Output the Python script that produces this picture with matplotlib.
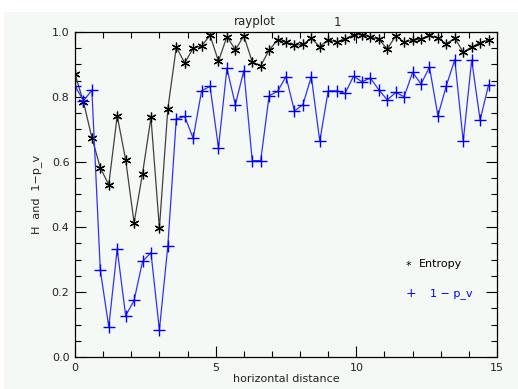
import matplotlib.pyplot as plt
from matplotlib.patches import Rectangle
import numpy as np

# sample spacing along x (every 0.3)
x_step = 0.3

entropy = [0.871, 0.785, 0.675, 0.582, 0.530, 0.742, 0.607, 0.413, 0.564, 0.737,
           0.396, 0.764, 0.953, 0.905, 0.950, 0.957, 0.990, 0.910, 0.986, 0.945,
           0.988, 0.908, 0.896, 0.944, 0.976, 0.968, 0.959, 0.962, 0.980, 0.955,
           0.976, 0.969, 0.979, 0.991, 0.992, 0.985, 0.977, 0.948, 0.988, 0.969,
           0.974, 0.979, 0.990, 0.981, 0.964, 0.981, 0.938, 0.954, 0.967, 0.976]

one_minus_pv = [0.835, 0.788, 0.821, 0.267, 0.093, 0.332, 0.127, 0.174, 0.294, 0.321,
                0.083, 0.342, 0.733, 0.740, 0.673, 0.819, 0.833, 0.644, 0.888, 0.776,
                0.881, 0.604, 0.604, 0.804, 0.817, 0.863, 0.757, 0.776, 0.863, 0.664,
                0.819, 0.819, 0.811, 0.864, 0.847, 0.858, 0.822, 0.791, 0.814, 0.801,
                0.876, 0.840, 0.892, 0.742, 0.835, 0.915, 0.664, 0.914, 0.729, 0.837]

x = np.arange(len(entropy)) * x_step

bg = '#f5f9f5'
txt = '#222222'
blue = '#0000ff'

fig = plt.figure(figsize=(5.18, 3.89), dpi=100, facecolor='white')
# light panel behind everything (white strip at top and left edge)
fig.add_artist(Rectangle((4 / 518, 0), 1, 1 - 12 / 389, transform=fig.transFigure,
                         facecolor=bg, edgecolor='none', zorder=-10))

ax = fig.add_axes([75 / 518, 1 - 357 / 389, 422 / 518, 325 / 389])
ax.set_facecolor(bg)

ax.plot(x, entropy, color='#404040', lw=0.9, marker=(6, 2, 0), ms=7, mew=0.9,
        mec='black')
ax.plot(x, one_minus_pv, color='#3030ff', lw=0.9, marker='+', ms=8, mew=1.0, mec=blue)

ax.set_xlim(0, 15)
ax.set_ylim(0, 1)
ax.set_xticks([0, 5, 10, 15])
ax.set_xticks(np.arange(0, 16, 1), minor=True)
ax.set_yticks(np.arange(0, 1.01, 0.2))
ax.set_yticks(np.arange(0, 1.01, 0.05), minor=True)
ax.set_yticklabels(['%.1f' % v for v in np.arange(0, 1.01, 0.2)])
ax.tick_params(which='both', direction='in', top=True, right=True, colors='black',
               labelcolor=txt, labelsize=8, width=0.8)
ax.tick_params(which='major', length=8, pad=4)
ax.tick_params(which='minor', length=4)
for s in ax.spines.values():
    s.set_color('black')
    s.set_linewidth(0.9)

ax.set_xlabel('horizontal distance', fontsize=8, color=txt, labelpad=1)
ax.set_ylabel('H  and  1\u2212p_v', fontsize=8, color=txt, labelpad=7)

fig.text(255 / 518, 1 - 22 / 389, 'rayplot', ha='center', va='center', fontsize=8.5, color=txt)
fig.text(337 / 518, 1 - 22 / 389, '1', ha='center', va='center', fontsize=8.5, color=txt)

# hand-placed legend, as in the original
ax.text(0.790, 0.280, '*', transform=ax.transAxes, ha='center', va='center',
        fontsize=8, color='black')
ax.text(0.815, 0.286, 'Entropy', transform=ax.transAxes, ha='left', va='center',
        fontsize=8, color='black')
ax.text(0.796, 0.194, '+', transform=ax.transAxes, ha='center', va='center',
        fontsize=9, color=blue)
ax.text(0.841, 0.194, '1 \u2212 p_v', transform=ax.transAxes, ha='left', va='center',
        fontsize=8, color=blue)

fig.savefig('out.png', dpi=100, facecolor='white')
